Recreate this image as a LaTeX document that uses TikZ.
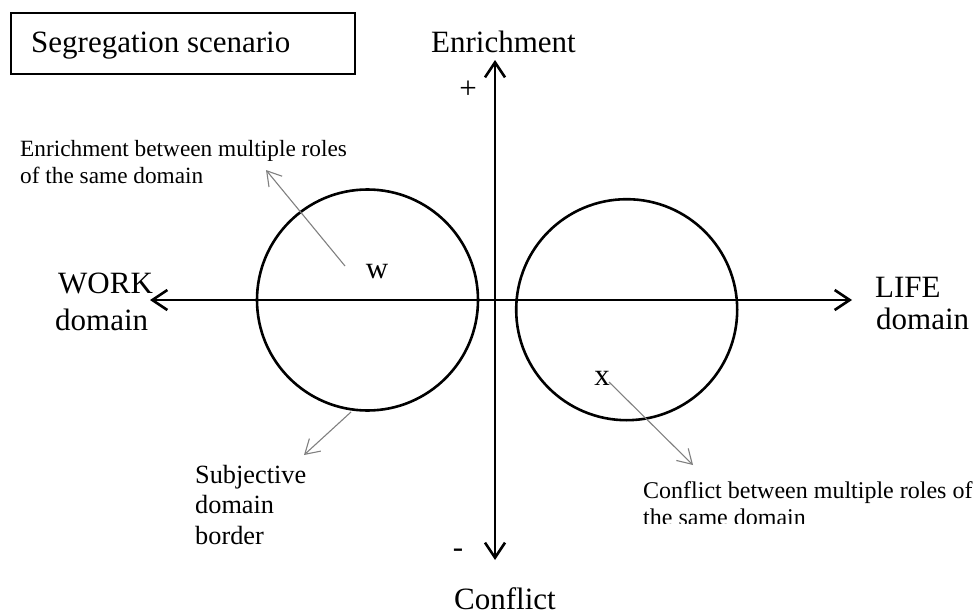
\documentclass[tikz,border=0pt]{standalone}
\usepackage{fontspec}
\setmainfont{Liberation Serif}
\usetikzlibrary{arrows.meta}
\tikzset{
  axisline/.style={line width=2.6pt, -{Straight Barb[length=15pt,width=20pt]}},
  ring/.style={circle, draw, line width=2.6pt, minimum size=221pt, inner sep=0pt},
  pointer/.style={draw=gray, line width=1.1pt, -{Straight Barb[length=14pt,width=17pt]}},
  bigtxt/.style={inner sep=0pt, font=\fontsize{31}{36}\selectfont},
  smalltxt/.style={inner sep=0pt, anchor=base west, font=\fontsize{23.3}{27}\selectfont},
  midtxt/.style={inner sep=0pt, anchor=base west, font=\fontsize{26.3}{30}\selectfont},
  titlebox/.style={draw, line width=1.5pt, minimum width=344pt, minimum height=61pt, inner sep=0pt}
}
\begin{document}
\begin{tikzpicture}[x=1pt,y=-1pt]
\useasboundingbox (0,0) rectangle (975,613);
% title box
\node[titlebox, anchor=north west] (box) at (10,12) {};
\node[bigtxt, anchor=base west] (title) at (31,52) {Segregation scenario};
% axes
\coordinate (top) at (495,60);
\coordinate (bot) at (495,560);
\coordinate (lft) at (150,300);
\coordinate (rgt) at (852,300);
\coordinate (ctr) at (495,300);
\draw[axisline] (ctr) -- (top);
\draw[axisline] (ctr) -- (bot);
\draw[axisline] (ctr) -- (lft);
\draw[axisline] (ctr) -- (rgt);
% axis labels
\node[bigtxt, anchor=base] (enr) at (503.5,52) {Enrichment};
\node[bigtxt, anchor=base] (con) at (505,609.5) {Conflict};
\node[bigtxt] (plus) at (468,90) {+};
\node[bigtxt] (minus) at (458,553) {-};
\node[bigtxt, anchor=base west] (work) at (58,293) {WORK};
\node[bigtxt, anchor=base west] (workd) at (55,330) {domain};
\node[bigtxt, anchor=base west] (life) at (875,297) {LIFE};
\node[bigtxt, anchor=base west] (lifed) at (876,329) {domain};
% circles
\node[ring] (cl) at (367.5,300) {};
\node[ring] (cr) at (626.7,309.7) {};
\node[bigtxt, anchor=base] (w) at (377,278) {w};
\node[bigtxt, anchor=base] (x) at (602,385) {x};
% annotations
\node[smalltxt] (e1) at (20,156) {Enrichment between multiple roles};
\node[smalltxt] (e2) at (20,183) {of the same domain};
\node[midtxt] (s1) at (195,483) {Subjective};
\node[midtxt] (s2) at (195,513) {domain};
\node[midtxt] (s3) at (195,544) {border};
\node[smalltxt, font=\fontsize{24}{28}\selectfont] (c1) at (643,498) {Conflict between multiple roles of};
\begin{scope}
\clip (600,505) rectangle (975,523.5);
\node[smalltxt, font=\fontsize{24}{28}\selectfont] (c2) at (643,525) {the same domain};
\end{scope}
% pointers
\coordinate (p1s) at (345,266);
\coordinate (p1e) at (266,170);
\coordinate (p2s) at (351,412);
\coordinate (p2e) at (304,455);
\coordinate (p3s) at (609,382);
\coordinate (p3e) at (693,465);
\draw[pointer] (p1s) -- (p1e);
\draw[pointer] (p2s) -- (p2e);
\draw[pointer] (p3s) -- (p3e);
\end{tikzpicture}
\end{document}
